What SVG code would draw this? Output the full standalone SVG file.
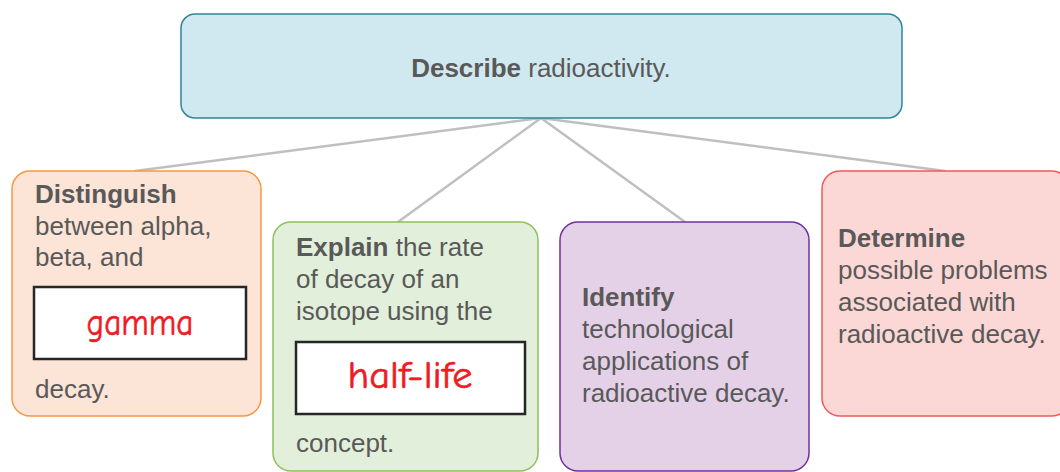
<svg xmlns="http://www.w3.org/2000/svg" width="1060" height="472" viewBox="0 0 1060 472">
<style>
.t{font-family:"Liberation Sans",Arial,sans-serif;font-size:26px;fill:#595959}
.b{font-weight:bold}
.hw{font-family:"Comic Neue","Liberation Sans",sans-serif;font-size:38px;fill:#ed1c24;stroke:#ed1c24;stroke-width:0.6;text-anchor:middle}
.box{stroke-width:1.5}
.wb{fill:#ffffff;stroke:#262626;stroke-width:2.5}
.c{stroke:#bfbfbf;stroke-width:2.5;fill:none}
</style>
<rect width="1060" height="472" fill="#ffffff"/>
<g id="connectors">
<line class="c" x1="541" y1="118" x2="135" y2="171"/>
<line class="c" x1="541" y1="118" x2="398" y2="222"/>
<line class="c" x1="541" y1="118" x2="685" y2="222"/>
<line class="c" x1="541" y1="118" x2="945" y2="171"/>
</g>
<g id="top">
<rect class="box" x="181" y="14" width="721" height="104" rx="14" fill="#d0e8ef" stroke="#31849b"/>
<text class="t" x="541" y="77" text-anchor="middle"><tspan class="b">Describe</tspan> radioactivity.</text>
</g>
<g id="distinguish">
<rect class="box" x="12" y="171" width="249" height="245" rx="18" fill="#fce4d6" stroke="#f79646"/>
<text class="t" x="35" y="203"><tspan class="b">Distinguish</tspan></text>
<text class="t" x="35" y="235">between alpha,</text>
<text class="t" x="35" y="266">beta, and</text>
<rect class="wb" x="34" y="287" width="212" height="72"/>
<text class="hw" x="140" y="335" textLength="107" lengthAdjust="spacingAndGlyphs">gamma</text>
<text class="t" x="35" y="398">decay.</text>
</g>
<g id="explain">
<rect class="box" x="273" y="222" width="265" height="249" rx="18" fill="#e2efda" stroke="#8fc05c"/>
<text class="t" x="296" y="256"><tspan class="b">Explain</tspan> the rate</text>
<text class="t" x="296" y="288">of decay of an</text>
<text class="t" x="296" y="320">isotope using the</text>
<rect class="wb" x="296" y="342" width="229" height="72"/>
<text class="hw" x="410" y="388" textLength="125" lengthAdjust="spacingAndGlyphs">half-life</text>
<text class="t" x="296" y="452">concept.</text>
</g>
<g id="identify">
<rect class="box" x="560" y="222" width="249" height="249" rx="18" fill="#e4d1e7" stroke="#7030a0"/>
<text class="t" x="582" y="306"><tspan class="b">Identify</tspan></text>
<text class="t" x="582" y="338">technological</text>
<text class="t" x="582" y="370">applications of</text>
<text class="t" x="582" y="402">radioactive decay.</text>
</g>
<g id="determine">
<rect class="box" x="822" y="171" width="248" height="245" rx="18" fill="#fbd7d5" stroke="#ee5a5a"/>
<text class="t" x="838" y="247"><tspan class="b">Determine</tspan></text>
<text class="t" x="838" y="279">possible problems</text>
<text class="t" x="838" y="311">associated with</text>
<text class="t" x="838" y="343">radioactive decay.</text>
</g>
</svg>
